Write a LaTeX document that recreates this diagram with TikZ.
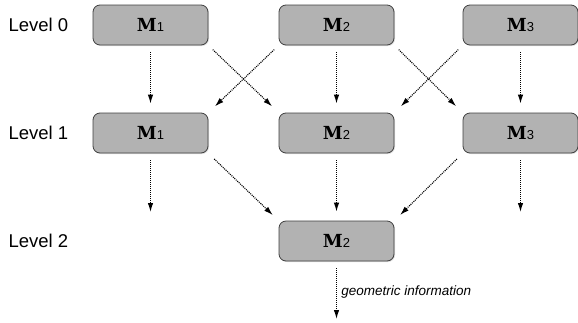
\documentclass[tikz,border=0pt]{standalone}
\usepackage{fontspec}
\setsansfont{Liberation Sans}
\newfontfamily\slabfont{DejaVu Serif}
\usepackage{tikz}
\usetikzlibrary{arrows.meta,shadows}
\tikzset{>={Latex[length=9pt,width=5.5pt]}}
\newcommand{\mname}[1]{{\slabfont\bfseries M}{\sffamily\fontsize{13}{13}\selectfont #1}}

\begin{document}
\begin{tikzpicture}[x=1pt,y=1pt,->]
\tikzstyle{obj} = [font=\fontsize{18}{20}\selectfont,rectangle,draw=black!75,line width=0.8pt,fill=black!30,minimum width=115pt,minimum height=40pt,rounded corners=7pt,drop shadow={opacity=0.25,shadow xshift=1pt,shadow yshift=-1pt}]
\tikzstyle{lvl} = [font=\sffamily\fontsize{18.5}{20}\selectfont,anchor=west]
\tikzstyle{flow} = [dash pattern=on 1pt off 1pt,line width=1.1pt]
\useasboundingbox (0,0) rectangle (578,-322);
\node[lvl] (t0) at (5,-25) {Level 0};
\node[lvl] (t1) at (5,-133) {Level 1};
\node[lvl] (t2) at (5,-241) {Level 2};
\node[obj] (a1) at (150.5,-25) {\mname{1}};
\node[obj] (a2) at (336.5,-25) {\mname{2}};
\node[obj] (a3) at (520.5,-25) {\mname{3}};
\node[obj] (b1) at (150.5,-133) {\mname{1}};
\node[obj] (b2) at (336.5,-133) {\mname{2}};
\node[obj] (b3) at (520.5,-133) {\mname{3}};
\node[obj] (c2) at (336.5,-241) {\mname{2}};
\coordinate (e1) at (150.5,-212);
\coordinate (e3) at (520.5,-212);
\coordinate (out) at (336.5,-319);
\draw[flow,shorten <=7pt,shorten >=9pt] (a1) -- (b1);
\draw[flow,shorten <=7pt,shorten >=9pt] (a2) -- (b2);
\draw[flow,shorten <=7pt,shorten >=9pt] (a3) -- (b3);
\draw[flow,shorten <=6pt,shorten >=9pt] (a1.south east) -- (b2.north west);
\draw[flow,shorten <=6pt,shorten >=9pt] (a2.south west) -- (b1.north east);
\draw[flow,shorten <=6pt,shorten >=9pt] (a2.south east) -- (b3.north west);
\draw[flow,shorten <=6pt,shorten >=9pt] (a3.south west) -- (b2.north east);
\draw[flow,shorten <=7pt] (b1) -- (e1);
\draw[flow,shorten <=7pt] (b3) -- (e3);
\draw[flow,shorten <=7pt,shorten >=9pt] (b2) -- (c2);
\draw[flow,shorten <=8pt,shorten >=8pt] (b1.south east) -- (c2.north west);
\draw[flow,shorten <=8pt,shorten >=8pt] (b3.south west) -- (c2.north east);
\draw[flow,shorten <=7pt] (c2) -- (out) node[pos=0.53,right=1pt,font=\sffamily\itshape\fontsize{13.5}{15}\selectfont] {geometric information};
\end{tikzpicture}
\end{document}
